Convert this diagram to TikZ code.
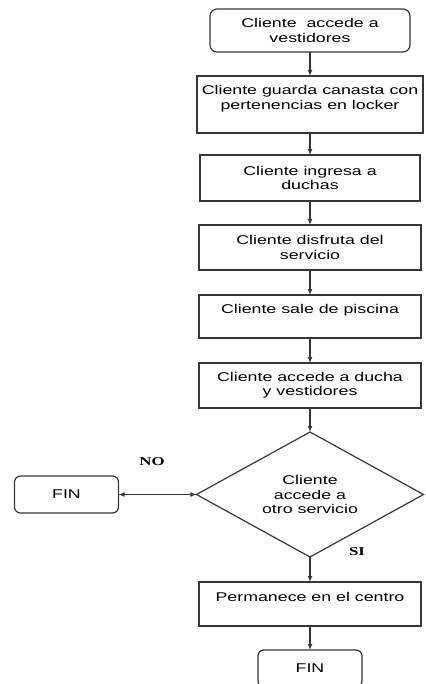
\documentclass[tikz,border=0pt]{standalone}
\usepackage{fontspec}
\setmainfont{Liberation Sans}[FakeStretch=1.4]
\newfontfamily\labelfont{Liberation Serif}[FakeStretch=1.4]
\usepackage{tikz}
\usetikzlibrary{positioning,shapes.geometric,arrows.meta}
\definecolor{linegray}{RGB}{55,55,55}

\begin{document}
\begin{tikzpicture}[x=1pt, y=-1pt, node distance=24pt,
  block/.style={rectangle, draw=linegray, line width=1.2pt, outer sep=0pt, align=center, font=\fontsize{12.7}{14.3}\selectfont, minimum width=222pt, minimum height=45pt, inner sep=4pt},
  startbox/.style={block, rounded corners=7pt},
  endbox/.style={block, rounded corners=6pt, minimum width=104pt, minimum height=37pt},
  decision/.style={diamond, draw=linegray, line width=1.2pt, outer sep=0pt, align=center, font=\fontsize{12.7}{14.3}\selectfont, aspect=1.8, minimum width=227pt, minimum height=125pt, inner sep=1pt},
  answer/.style={font=\labelfont\bfseries\fontsize{12}{14}\selectfont},
  arrow/.style={->, >={Latex[length=6pt,width=5pt]}, line width=1.2pt, linegray}]

\useasboundingbox (0,0) rectangle (425,684);

\node[startbox, minimum width=200pt, minimum height=43pt] (vestidores) at (310,30.5) {Cliente\ \ accede a\\vestidores};
\node[block, minimum width=226pt, minimum height=57pt, below=24pt of vestidores] (locker) {Cliente guarda canasta con\\pertenencias en locker\\~};
\node[block, minimum width=220pt, minimum height=46pt, below=22pt of locker] (duchas) {Cliente ingresa a\\duchas};
\node[block, below=24pt of duchas] (disfruta) {Cliente disfruta del\\servicio};
\node[block, minimum height=43pt, below=25pt of disfruta] (sale) {Cliente sale de piscina\\~};
\node[block, below=25pt of sale] (regreso) {Cliente accede a ducha\\y vestidores};
\node[decision, below=24pt of regreso] (otro) {Cliente\\accede a\\otro servicio};
\node[block, minimum height=44pt, below=25pt of otro] (permanece) {Permanece en el centro\\~};
\node[endbox, below=24pt of permanece] (finb) {FIN};
\node[endbox, left=78pt of otro] (fina) {FIN};

\node[answer] (no) at (152,462) {NO};
\node[answer] (si) at (357,552) {SI};

\draw[arrow] (vestidores) -- (locker);
\draw[arrow] (locker) -- (duchas);
\draw[arrow] (duchas) -- (disfruta);
\draw[arrow] (disfruta) -- (sale);
\draw[arrow] (sale) -- (regreso);
\draw[arrow] (regreso) -- (otro);
\draw[arrow, <->] (fina) -- (otro);
\draw[arrow] (otro) -- (permanece);
\draw[arrow] (permanece) -- (finb);
\end{tikzpicture}
\end{document}
